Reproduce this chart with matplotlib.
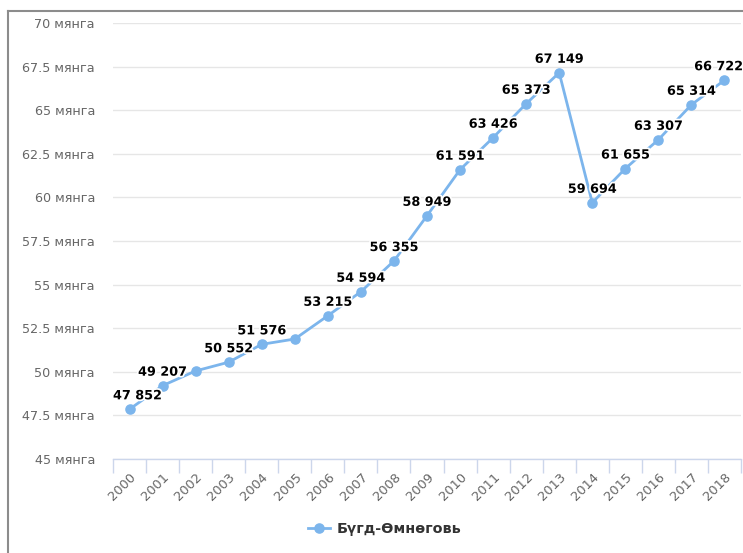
import matplotlib
matplotlib.use("Agg")
import matplotlib.pyplot as plt
from matplotlib.lines import Line2D
import matplotlib.patheffects as pe

years = [str(y) for y in range(2000, 2019)]
values = [47852, 49207, 50050, 50552, 51576, 51880, 53215, 54594, 56355, 58949,
          61591, 63426, 65373, 67149, 59694, 61655, 63307, 65314, 66722]
labeled = [True, True, False, True, True, False, True, True, True, True,
           True, True, True, True, True, True, True, True, True]
y_ticks = [45000, 47500, 50000, 52500, 55000, 57500, 60000, 62500, 65000, 67500, 70000]
y_tick_labels = ["45 мянга", "47.5 мянга", "50 мянга", "52.5 мянга", "55 мянга",
                 "57.5 мянга", "60 мянга", "62.5 мянга", "65 мянга", "67.5 мянга", "70 мянга"]
series_name = "Бүгд-Өмнөговь"

W, H = 743, 553
fig = plt.figure(figsize=(W / 100, H / 100), dpi=100)
ax = fig.add_axes([113 / W, (H - 459) / H, (741 - 113) / W, (459 - 23) / H])

color = "#7cb5ec"
x = list(range(len(years)))
ax.plot(x, values, color=color, lw=2, marker="o", ms=6.6, mec=color, mfc=color,
        zorder=3, clip_on=False)

for i, (v, lab) in enumerate(zip(values, labeled)):
    if not lab:
        continue
    dx = 0
    if i == 0:
        dx = 8
    elif i == len(values) - 1:
        dx = -6
    t = ax.annotate(f"{v:,}".replace(",", " "), (i, v), xytext=(dx * 0.72, 5),
                    textcoords="offset points", ha="center", va="bottom",
                    fontsize=9.2, fontweight="bold", color="#000000", zorder=4,
                    annotation_clip=False)
    t.set_path_effects([pe.withStroke(linewidth=2.5, foreground="white")])

ax.set_xlim(-0.5, len(years) - 0.5)
ax.set_ylim(45000, 70000)
ax.set_yticks(y_ticks)
ax.set_yticklabels(y_tick_labels)
ax.tick_params(axis="y", length=0, pad=13, labelsize=9.2, labelcolor="#666666")
ax.set_xticks(x)
ax.set_xticklabels(years, rotation=45, ha="right", rotation_mode="anchor")
ax.tick_params(axis="x", which="major", length=0, pad=8, labelsize=9.4, labelcolor="#666666")
ax.set_xticks([i - 0.5 for i in range(len(years) + 1)], minor=True)
ax.tick_params(axis="x", which="minor", length=10, width=1, color="#ccd6eb", direction="out")

ax.grid(axis="y", color="#e6e6e6", lw=1)
ax.set_axisbelow(True)
for s in ["top", "right", "left"]:
    ax.spines[s].set_visible(False)
ax.spines["bottom"].set_color("#ccd6eb")
ax.spines["bottom"].set_linewidth(1)

# outer frame (top and left edges)
fig.add_artist(Line2D([8 / W, 1], [1 - 11 / H, 1 - 11 / H], transform=fig.transFigure,
                      color="#8c8c8c", lw=1.5))
fig.add_artist(Line2D([8 / W, 8 / W], [0, 1 - 11 / H], transform=fig.transFigure,
                      color="#8c8c8c", lw=1.5))

# legend
handle = Line2D([], [], color=color, lw=2, marker="o", ms=6.6, mfc=color, mec=color)
leg = fig.legend([handle], [series_name], loc="center", bbox_to_anchor=(385 / W, 1 - 529 / H),
                 frameon=False, prop={"size": 10.4, "weight": "bold"}, handlelength=1.5,
                 handletextpad=0.5)
for t in leg.get_texts():
    t.set_color("#333333")

fig.savefig("out.png", dpi=100)
